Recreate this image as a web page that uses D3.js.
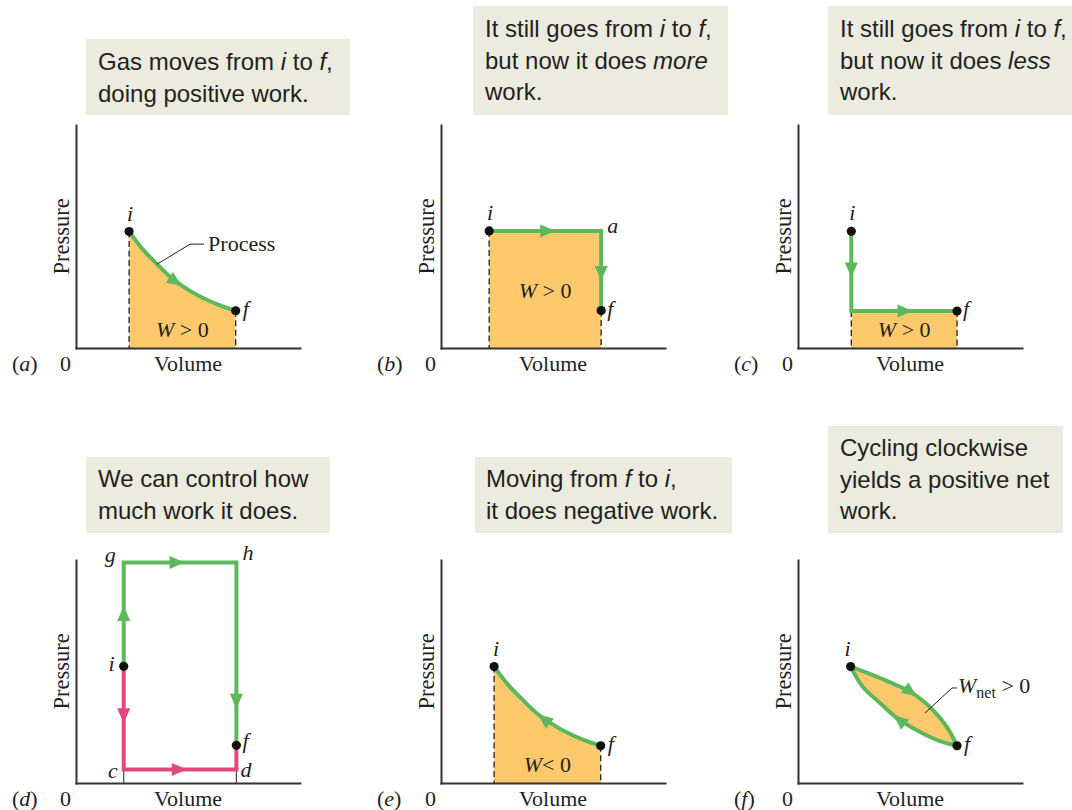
<!DOCTYPE html>
<html><head><meta charset="utf-8">
<script src="https://cdn.jsdelivr.net/npm/d3@7"></script>
<style>
body{margin:0;background:#fff}
svg{display:block}
</style></head><body>
<svg id="chart" width="1072" height="810"></svg>
<script>
// ---------------- data (volume / pressure, arbitrary units 0..10) ----------------
const panelKeys = ["a","b","c","d","e","f"];
// (a) and (e): the same curved process between i and f
const curveVol  = [2.37, 3.0, 3.62, 4.33, 5.0, 5.54, 6.3, 7.13];
const curvePres = [5.22, 4.40, 3.76, 3.08, 2.62, 2.31, 1.96, 1.67];
// (b) i -> a -> f
const pathBVol  = [2.15, 7.15, 7.15];
const pathBPres = [5.25, 5.25, 1.68];
// (c) i -> corner -> f
const pathCVol  = [2.38, 2.38, 7.10];
const pathCPres = [5.23, 1.66, 1.66];
// (d) green route i -> g -> h -> f, pink route i -> c -> d -> f
const greenDVol  = [2.13, 2.13, 7.16, 7.16];
const greenDPres = [5.23, 9.89, 9.89, 1.69];
const pinkDVol   = [2.13, 2.13, 7.16, 7.16];
const pinkDPres  = [5.23, 0.60, 0.60, 1.69];
// (f) closed cycle: upper branch i -> f, lower branch f -> i
const lensUpperVol  = [2.35, 3.66, 5.09, 6.03, 6.65, 7.10];
const lensUpperPres = [5.22, 4.71, 4.04, 3.27, 2.51, 1.67];
const lensLowerVol  = [7.10, 6.34, 5.45, 4.42, 3.66, 2.90, 2.35];
const lensLowerPres = [1.67, 1.88, 2.29, 2.91, 3.59, 4.30, 5.22];

const captionA = ["Gas moves from *i* to *f*,", "doing positive work."];
const captionB = ["It still goes from *i* to *f*,", "but now it does *more*", "work."];
const captionC = ["It still goes from *i* to *f*,", "but now it does *less*", "work."];
const captionD = ["We can control how", "much work it does."];
const captionE = ["Moving from *f* to *i*,", "it does negative work."];
const captionF = ["Cycling clockwise", "yields a positive net", "work."];

// ---------------- layout & style ----------------
const layout = {
  a:{ox:76,  oy:348, box:[86,39,264,76],   tx:98,  ty:70},
  b:{ox:441, oy:348, box:[473,6,255,109],  tx:485, ty:37},
  c:{ox:798, oy:348, box:[828,6,250,109],  tx:840, ty:37},
  d:{ox:76,  oy:783, box:[86,457,244,76],  tx:98,  ty:487},
  e:{ox:441, oy:783, box:[475,457,257,76], tx:486, ty:487},
  f:{ox:798, oy:783, box:[828,426,235,107],tx:840, ty:456}
};
const W = 224, H = 223;
const GREEN = "#5db85b", PINK = "#e1477f", ORANGE = "#fdc96c", BOXC = "#ebebdf", INK = "#231f20", AXIS = "#333";
const SANS = "'Liberation Sans', Arial, Helvetica, sans-serif";
const SERIF = "'Liberation Serif', 'Times New Roman', serif";

const svg = d3.select("#chart");

function panel(key){
  const L = layout[key];
  const g = svg.append("g");
  const x = d3.scaleLinear([0,10],[L.ox, L.ox+W]);
  const y = d3.scaleLinear([0,10],[L.oy, L.oy-H]);
  return {g,x,y,L};
}
function caption(P, lines){
  const {g,L} = P;
  g.append("rect").attr("x",L.box[0]).attr("y",L.box[1]).attr("width",L.box[2]).attr("height",L.box[3]).attr("fill",BOXC);
  lines.forEach((line,i)=>{
    const t = g.append("text").attr("x",L.tx).attr("y",L.ty+i*31.5)
      .attr("font-family",SANS).attr("font-size",24).attr("fill",INK);
    line.split("*").forEach((seg,j)=>{ if(seg) t.append("tspan").attr("font-style", j%2 ? "italic":"normal").text(seg); });
  });
}
function axes(P, key){
  const {g,x,y,L} = P;
  const ax = g.append("g").attr("transform",`translate(0,${L.oy})`).call(d3.axisBottom(x).ticks(0).tickSizeOuter(0));
  const ay = g.append("g").attr("transform",`translate(${L.ox},0)`).call(d3.axisLeft(y).ticks(0).tickSizeOuter(0));
  [ax,ay].forEach(s=>s.select(".domain").attr("stroke",AXIS).attr("stroke-width",2).attr("stroke-linecap","square"));
  const lab = (txt,xx,yy,anchor)=>g.append("text").attr("x",xx).attr("y",yy).attr("text-anchor",anchor)
    .attr("font-family",SERIF).attr("font-size",22).attr("fill",INK).text(txt);
  lab("Volume", x(5), L.oy+23, "middle");
  lab("0", L.ox-5, L.oy+23, "end");
  const pl = g.append("text").attr("x",L.ox-64).attr("y",L.oy+23).attr("font-family",SERIF).attr("font-size",22).attr("fill",INK);
  pl.append("tspan").text("(");
  pl.append("tspan").attr("font-style","italic").text(key);
  pl.append("tspan").text(")");
  g.append("text").attr("transform",`translate(${L.ox-7},${y(5)}) rotate(-90)`).attr("text-anchor","middle")
    .attr("font-family",SERIF).attr("font-size",22.5).attr("fill",INK).text("Pressure");
}
function line(P, vols, press, curve){
  return d3.line().x((d,i)=>P.x(vols[i])).y((d,i)=>P.y(press[i])).curve(curve||d3.curveLinear)(vols);
}
function stroke(P, vols, press, color, curve){
  return P.g.append("path").attr("d", line(P,vols,press,curve)).attr("fill","none")
    .attr("stroke",color).attr("stroke-width",4).attr("stroke-linejoin","miter");
}
function arrow(P, pathSel, t, color){
  const node = pathSel.node(), Lt = node.getTotalLength();
  const p = node.getPointAtLength(Lt*t), q = node.getPointAtLength(Math.max(0,Lt*t-3));
  let dx = p.x-q.x, dy = p.y-q.y; const n = Math.hypot(dx,dy); dx/=n; dy/=n;
  const len = 15, w = 6.5, bx = p.x-dx*len, by = p.y-dy*len;
  P.g.append("path").attr("d",`M${p.x},${p.y}L${bx-dy*w},${by+dx*w}L${bx+dy*w},${by-dx*w}Z`).attr("fill",color);
}
function dashed(P, v, p0, p1){
  P.g.append("line").attr("x1",P.x(v)).attr("x2",P.x(v)).attr("y1",P.y(p0)).attr("y2",P.y(p1))
    .attr("stroke","#222").attr("stroke-width",1.3).attr("stroke-dasharray","6,3.5");
}
function dot(P, v, p){ P.g.append("circle").attr("cx",P.x(v)).attr("cy",P.y(p)).attr("r",4.6).attr("fill","#111"); }
function ptLabel(P, txt, v, p, dx, dy, anchor){
  P.g.append("text").attr("x",P.x(v)+dx).attr("y",P.y(p)+dy).attr("text-anchor",anchor||"start")
    .attr("font-family",SERIF).attr("font-style","italic").attr("font-size",22).attr("fill",INK).text(txt);
}
function workLabel(P, v, p, rel){
  const t = P.g.append("text").attr("x",P.x(v)).attr("y",P.y(p)).attr("text-anchor","middle")
    .attr("font-family",SERIF).attr("font-size",22).attr("fill",INK);
  t.append("tspan").attr("font-style","italic").text("W");
  t.append("tspan").text(rel);
}
function areaUnder(P, vols, press, curve){
  P.g.append("path").attr("fill",ORANGE).attr("d",
    d3.area().x((d,i)=>P.x(vols[i])).y0(P.y(0)).y1((d,i)=>P.y(press[i])).curve(curve||d3.curveLinear)(vols));
}

// ---------------- (a) ----------------
{
  const P = panel("a"); caption(P, captionA);
  const n = curveVol.length-1;
  areaUnder(P, curveVol, curvePres, d3.curveMonotoneX);
  axes(P,"a");
  dashed(P, curveVol[0], curvePres[0], 0); dashed(P, curveVol[n], curvePres[n], 0);
  const s = stroke(P, curveVol, curvePres, GREEN, d3.curveMonotoneX);
  arrow(P, s, 0.56, GREEN);
  dot(P, curveVol[0], curvePres[0]); dot(P, curveVol[n], curvePres[n]);
  ptLabel(P,"i",curveVol[0],curvePres[0],1,-11,"middle");
  ptLabel(P,"f",curveVol[n],curvePres[n],7,5);
  workLabel(P, (curveVol[0]+curveVol[n])/2, 0.5, " > 0");
  // leader to "Process"
  const ax0 = P.x(curveVol[2]), ay0 = P.y(curvePres[2]);
  P.g.append("path").attr("d",`M${ax0},${ay0}L${ax0+33},${ay0-20}L${ax0+47},${ay0-20}`).attr("fill","none").attr("stroke","#222").attr("stroke-width",1);
  P.g.append("text").attr("x",ax0+51).attr("y",ay0-13).attr("font-family",SERIF).attr("font-size",22).attr("fill",INK).text("Process");
}
// ---------------- (b) ----------------
{
  const P = panel("b"); caption(P, captionB);
  areaUnder(P, pathBVol.slice(0,2), pathBPres.slice(0,2));
  axes(P,"b");
  dashed(P, pathBVol[0], pathBPres[0], 0); dashed(P, pathBVol[2], pathBPres[2], 0);
  stroke(P, pathBVol, pathBPres, GREEN);
  const s1 = P.g.append("path").attr("d", line(P,pathBVol.slice(0,2),pathBPres.slice(0,2))).attr("fill","none");
  const s2 = P.g.append("path").attr("d", line(P,pathBVol.slice(1),pathBPres.slice(1))).attr("fill","none");
  arrow(P, s1, 0.59, GREEN); arrow(P, s2, 0.63, GREEN);
  dot(P, pathBVol[0], pathBPres[0]); dot(P, pathBVol[2], pathBPres[2]);
  ptLabel(P,"i",pathBVol[0],pathBPres[0],1,-11,"middle");
  ptLabel(P,"a",pathBVol[1],pathBPres[1],6,2);
  ptLabel(P,"f",pathBVol[2],pathBPres[2],6,5);
  workLabel(P, (pathBVol[0]+pathBVol[1])/2, 2.25, " > 0");
}
// ---------------- (c) ----------------
{
  const P = panel("c"); caption(P, captionC);
  areaUnder(P, pathCVol.slice(1), pathCPres.slice(1));
  axes(P,"c");
  dashed(P, pathCVol[1], pathCPres[1], 0); dashed(P, pathCVol[2], pathCPres[2], 0);
  stroke(P, pathCVol, pathCPres, GREEN);
  const s1 = P.g.append("path").attr("d", line(P,pathCVol.slice(0,2),pathCPres.slice(0,2))).attr("fill","none");
  const s2 = P.g.append("path").attr("d", line(P,pathCVol.slice(1),pathCPres.slice(1))).attr("fill","none");
  arrow(P, s1, 0.58, GREEN); arrow(P, s2, 0.58, GREEN);
  dot(P, pathCVol[0], pathCPres[0]); dot(P, pathCVol[2], pathCPres[2]);
  ptLabel(P,"i",pathCVol[0],pathCPres[0],1,-11,"middle");
  ptLabel(P,"f",pathCVol[2],pathCPres[2],6,5);
  workLabel(P, (pathCVol[1]+pathCVol[2])/2, 0.5, " > 0");
}
// ---------------- (d) ----------------
{
  const P = panel("d"); caption(P, captionD);
  axes(P,"d");
  [pinkDVol[1], pinkDVol[2]].forEach(v=>P.g.append("line").attr("x1",P.x(v)).attr("x2",P.x(v))
    .attr("y1",P.y(pinkDPres[1])).attr("y2",P.y(0)).attr("stroke","#444").attr("stroke-width",1.2));
  stroke(P, pinkDVol, pinkDPres, PINK);
  stroke(P, greenDVol, greenDPres, GREEN);
  const seg = (vs,ps,i)=>P.g.append("path").attr("d", line(P,vs.slice(i,i+2),ps.slice(i,i+2))).attr("fill","none");
  arrow(P, seg(greenDVol,greenDPres,0), 0.58, GREEN);
  arrow(P, seg(greenDVol,greenDPres,1), 0.54, GREEN);
  arrow(P, seg(greenDVol,greenDPres,2), 0.80, GREEN);
  arrow(P, seg(pinkDVol,pinkDPres,0), 0.55, PINK);
  arrow(P, seg(pinkDVol,pinkDPres,1), 0.56, PINK);
  dot(P, greenDVol[0], greenDPres[0]); dot(P, greenDVol[3], greenDPres[3]);
  ptLabel(P,"g",greenDVol[1],greenDPres[1],-8,0,"end");
  ptLabel(P,"h",greenDVol[2],greenDPres[2],6,-2);
  ptLabel(P,"i",greenDVol[0],greenDPres[0],-9,5,"end");
  ptLabel(P,"f",greenDVol[3],greenDPres[3],6,3);
  ptLabel(P,"c",pinkDVol[1],pinkDPres[1],-6,8,"end");
  ptLabel(P,"d",pinkDVol[2],pinkDPres[2],4,7);
}
// ---------------- (e) ----------------
{
  const P = panel("e"); caption(P, captionE);
  const n = curveVol.length-1;
  areaUnder(P, curveVol, curvePres, d3.curveMonotoneX);
  axes(P,"e");
  dashed(P, curveVol[0], curvePres[0], 0); dashed(P, curveVol[n], curvePres[n], 0);
  const rv = curveVol.slice().reverse(), rp = curvePres.slice().reverse();
  const s = stroke(P, rv, rp, GREEN, d3.curveMonotoneX);
  arrow(P, s, 0.52, GREEN);
  dot(P, curveVol[0], curvePres[0]); dot(P, curveVol[n], curvePres[n]);
  ptLabel(P,"i",curveVol[0],curvePres[0],2,-11,"middle");
  ptLabel(P,"f",curveVol[n],curvePres[n],7,5);
  workLabel(P, (curveVol[0]+curveVol[n])/2, 0.5, "< 0");
}
// ---------------- (f) ----------------
{
  const P = panel("f"); caption(P, captionF);
  P.g.append("path").attr("fill",ORANGE).attr("d",
    d3.line().x((d,i)=>P.x(lensUpperVol[i])).y((d,i)=>P.y(lensUpperPres[i])).curve(d3.curveCatmullRom)(lensUpperVol)
    + d3.line().x((d,i)=>P.x(lensLowerVol[i])).y((d,i)=>P.y(lensLowerPres[i])).curve(d3.curveCatmullRom)(lensLowerVol).replace(/^M/,"L") + "Z");
  axes(P,"f");
  const s1 = stroke(P, lensUpperVol, lensUpperPres, GREEN, d3.curveCatmullRom);
  const s2 = stroke(P, lensLowerVol, lensLowerPres, GREEN, d3.curveCatmullRom);
  arrow(P, s1, 0.53, GREEN); arrow(P, s2, 0.52, GREEN);
  const n = lensUpperVol.length-1;
  dot(P, lensUpperVol[0], lensUpperPres[0]); dot(P, lensUpperVol[n], lensUpperPres[n]);
  ptLabel(P,"i",lensUpperVol[0],lensUpperPres[0],-3,-11,"middle");
  ptLabel(P,"f",lensUpperVol[n],lensUpperPres[n],7,5);
  // leader to W_net > 0
  const lx = P.x(5.67), ly = P.y(3.14);
  P.g.append("path").attr("d",`M${lx},${ly}L${lx+27},${ly-25}L${lx+32},${ly-25}`).attr("fill","none").attr("stroke","#222").attr("stroke-width",1);
  const t = P.g.append("text").attr("x",lx+33).attr("y",ly-20).attr("font-family",SERIF).attr("font-size",22).attr("fill",INK);
  t.append("tspan").attr("font-style","italic").text("W");
  t.append("tspan").attr("font-size",16).attr("dy",5).text("net");
  t.append("tspan").attr("dy",-5).text(" > 0");
}
</script>
</body></html>
